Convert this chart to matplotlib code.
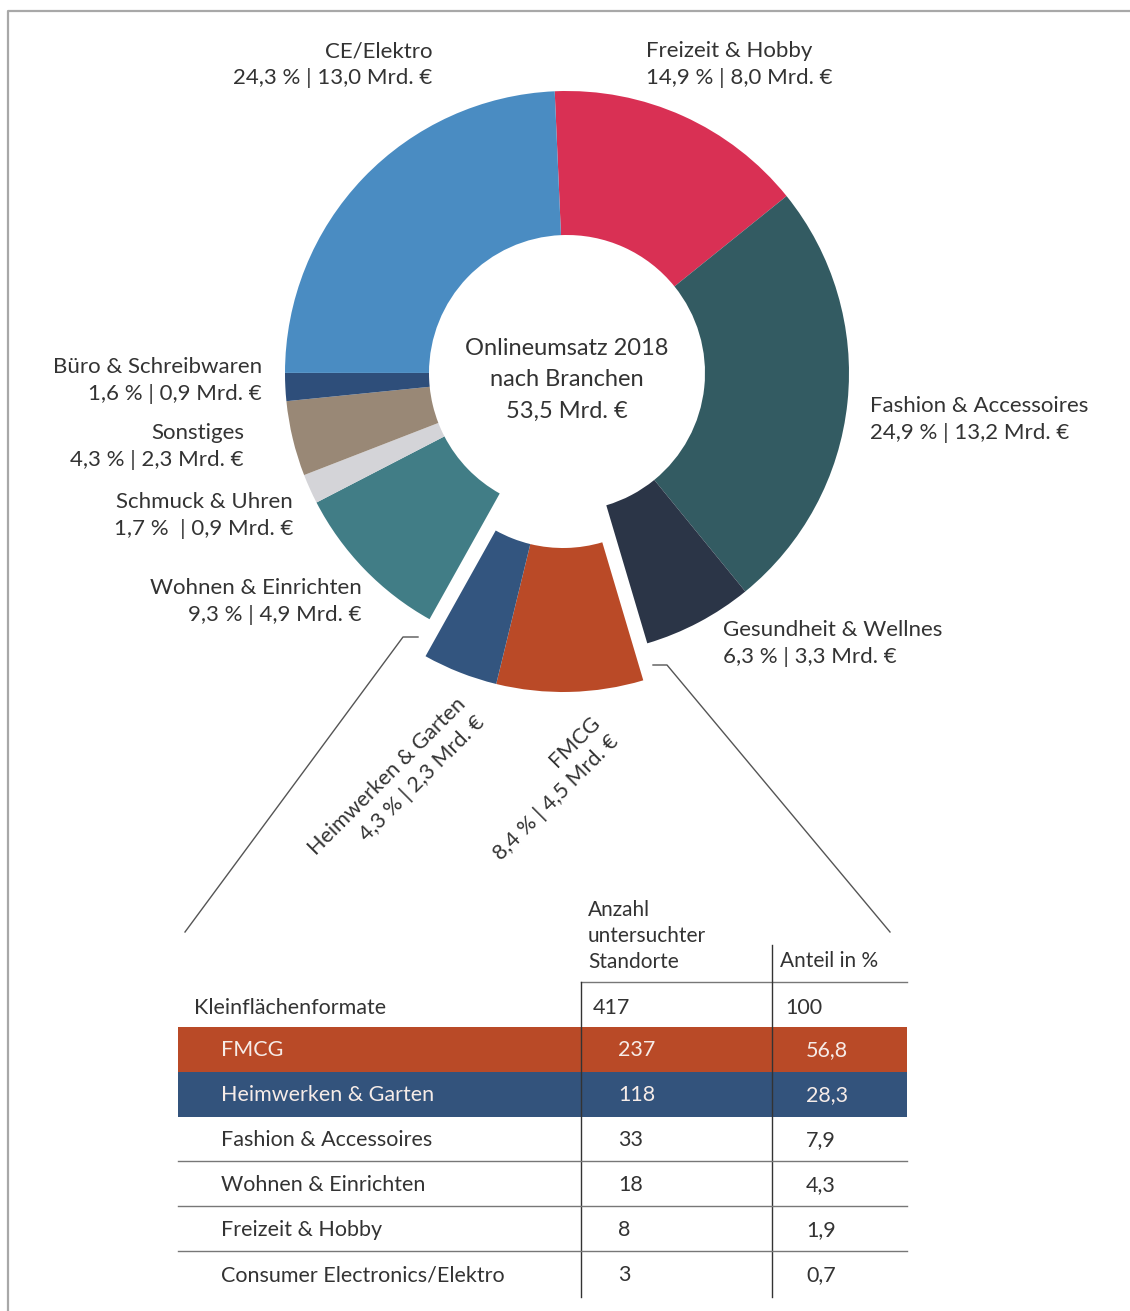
import matplotlib.pyplot as plt

W, H = 1130, 1311

# donut data (clockwise from top)
branchen = ["Freizeit & Hobby", "Fashion & Accessoires", "Gesundheit & Wellnes", "FMCG",
            "Heimwerken & Garten", "Wohnen & Einrichten", "Schmuck & Uhren", "Sonstiges",
            "Büro & Schreibwaren", "CE/Elektro"]
anteil = [14.9, 24.9, 6.3, 8.4, 4.3, 9.3, 1.7, 4.3, 1.6, 24.3]
umsatz = ["8,0", "13,2", "3,3", "4,5", "2,3", "4,9", "0,9", "2,3", "0,9", "13,0"]
farben = ["#D93054", "#335B62", "#2B3547", "#BA4A27", "#33557F", "#417D86",
          "#D4D4D8", "#998876", "#2E4E7A", "#4A8CC2"]
hervorgehoben = ["FMCG", "Heimwerken & Garten"]

# table data
tab_branchen = ["FMCG", "Heimwerken & Garten", "Fashion & Accessoires", "Wohnen & Einrichten",
                "Freizeit & Hobby", "Consumer Electronics/Elektro"]
tab_anzahl = [237, 118, 33, 18, 8, 3]
tab_anteil = ["56,8", "28,3", "7,9", "4,3", "1,9", "0,7"]
tab_gesamt = ("Kleinflächenformate", 417, 100)
tab_farben = {"FMCG": "#B94A27", "Heimwerken & Garten": "#33537C"}

TXT = "#333333"
plt.rcParams['font.family'] = ['Lato', 'DejaVu Sans']


def Y(y):
    return H - y


def fmt(p):
    return f"{p:.1f}".replace(".", ",")


fig = plt.figure(figsize=(W / 100, H / 100), dpi=100)
ax = fig.add_axes([0, 0, 1, 1])

cx, cy = 567, Y(373)
wedges, _ = ax.pie(anteil, colors=farben, startangle=92.5, counterclock=False,
                   radius=282, center=(cx, cy),
                   wedgeprops=dict(width=144, linewidth=0))
for w, name in zip(wedges, branchen):
    if name in hervorgehoben:
        w.set_center((cx - 4, cy - 37))

ax.set_xlim(0, W)
ax.set_ylim(0, H)
ax.axis('off')

# frame
ax.plot([8, 8, W], [0, Y(11), Y(11)], color="#a8a8a8", lw=1.6)

# centre text
ax.text(cx, Y(380), "Onlineumsatz 2018\nnach Branchen\n53,5 Mrd. €", ha='center', va='center',
        fontsize=17, color=TXT, linespacing=1.6)

# labels: (x, y of first line, alignment)
label_pos = {
    "CE/Elektro": (432, 50, 'right'),
    "Freizeit & Hobby": (646, 50, 'left'),
    "Fashion & Accessoires": (870, 405, 'left'),
    "Gesundheit & Wellnes": (723, 629, 'left'),
    "Büro & Schreibwaren": (262, 366, 'right'),
    "Sonstiges": (244, 432, 'right'),
    "Schmuck & Uhren": (293, 501, 'right'),
    "Wohnen & Einrichten": (362, 587, 'right'),
}
for name, p, u in zip(branchen, anteil, umsatz):
    if name in label_pos:
        x, y, ha = label_pos[name]
        sep = "  | " if name == "Schmuck & Uhren" else " | "
        ax.text(x, Y(y + 14.5), f"{name}\n{fmt(p)} %{sep}{u} Mrd. €", ha=ha, va='center',
                multialignment=ha, fontsize=16, color=TXT, linespacing=1.42)

rot_pos = {"Heimwerken & Garten": (472, 710), "FMCG": (606, 729)}
for name, p, u in zip(branchen, anteil, umsatz):
    if name in rot_pos:
        x, y = rot_pos[name]
        ax.text(x, Y(y), f"{name}\n{fmt(p)} % | {u} Mrd. €", ha='right', va='center',
                multialignment='right', rotation=45, rotation_mode='anchor',
                fontsize=15.5, color=TXT, linespacing=1.4)

# connector lines
ax.plot([418, 403, 185], [Y(637), Y(637), Y(932)], color="#555555", lw=1)
ax.plot([653, 667, 890], [Y(665), Y(665), Y(932)], color="#555555", lw=1)

# table
x0, x1, xa, xb = 178, 907, 581, 772
row_y = [1049 + 45 * i for i in range(len(tab_branchen))]

band_y = [Y(r) for r, n in zip(row_y, tab_branchen) if n in tab_farben]
band_c = [tab_farben[n] for n in tab_branchen if n in tab_farben]
ax.barh(band_y, x1 - x0, left=x0, height=45, color=band_c, linewidth=0)

ax.text(588, Y(936), "Anzahl\nuntersuchter\nStandorte", ha='left', va='center',
        fontsize=15, color=TXT, linespacing=1.4)
ax.text(780, Y(961), "Anteil in %", ha='left', va='center', fontsize=15, color=TXT)

ax.plot([xa, x1], [Y(982), Y(982)], color="#777777", lw=1)
ax.plot([xa, xa], [Y(982), Y(1297)], color="#333333", lw=1)
ax.plot([xb, xb], [Y(945), Y(1297)], color="#333333", lw=1)

ax.text(194, Y(1008), tab_gesamt[0], ha='left', va='center', fontsize=15.5, color=TXT)
ax.text(593, Y(1008), str(tab_gesamt[1]), ha='left', va='center', fontsize=15.5, color=TXT)
ax.text(785, Y(1008), str(tab_gesamt[2]), ha='left', va='center', fontsize=15.5, color=TXT)

for i, (name, n, a) in enumerate(zip(tab_branchen, tab_anzahl, tab_anteil)):
    c = "#f6ece8" if name in tab_farben else TXT
    y = Y(row_y[i] + 1)
    ax.text(221, y, name, ha='left', va='center', fontsize=15.5, color=c)
    ax.text(618, y, str(n), ha='left', va='center', fontsize=15.5, color=c)
    ax.text(806, y, a, ha='left', va='center', fontsize=15.5, color=c)
    if name not in tab_farben and i < len(tab_branchen) - 1:
        ax.plot([x0, x1], [Y(row_y[i] + 22), Y(row_y[i] + 22)], color="#777777", lw=1)

fig.savefig("out.png", dpi=100)
